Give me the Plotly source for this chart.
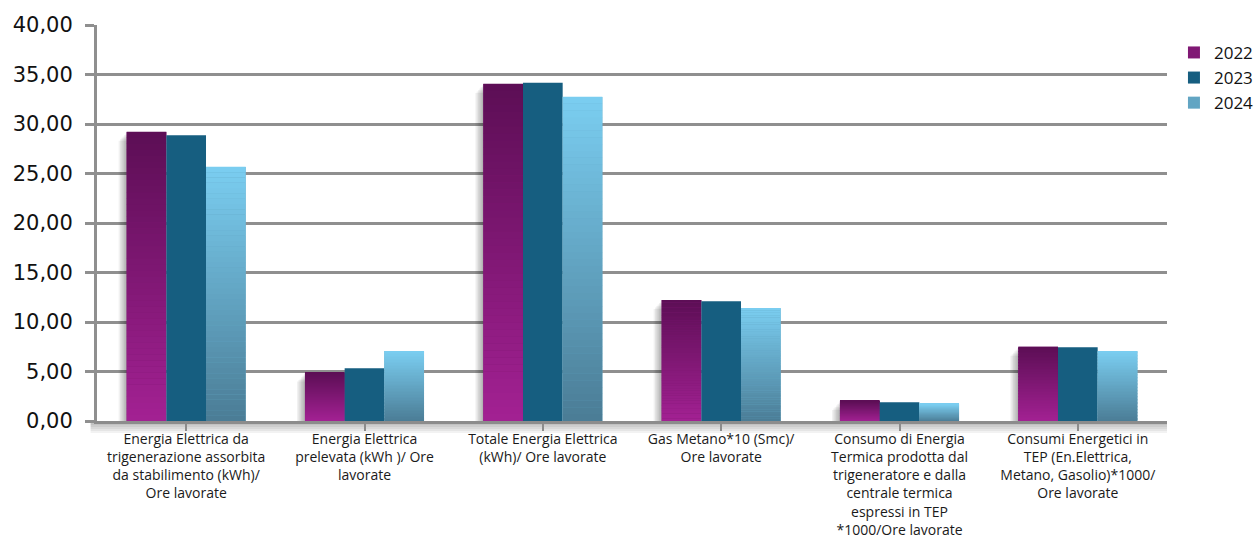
import plotly.graph_objects as go

# Indicatori energetici per ore lavorate
categories = [
    "Energia Elettrica da<br>trigenerazione assorbita<br>da stabilimento (kWh)/<br>Ore lavorate",
    "Energia Elettrica<br>prelevata (kWh )/ Ore<br>lavorate",
    "Totale Energia Elettrica<br>(kWh)/ Ore lavorate",
    "Gas Metano*10 (Smc)/<br>Ore lavorate",
    "Consumo di Energia<br>Termica prodotta dal<br>trigeneratore e dalla<br>centrale termica<br>espressi in TEP<br>*1000/Ore lavorate",
    "Consumi Energetici in<br>TEP (En.Elettrica,<br>Metano, Gasolio)*1000/<br>Ore lavorate",
]
years = ["2022", "2023", "2024"]
values_2022 = [29.20, 4.88, 34.04, 12.22, 2.02, 7.50]
values_2023 = [28.86, 5.32, 34.17, 12.10, 1.89, 7.44]
values_2024 = [25.66, 7.07, 32.73, 11.40, 1.72, 7.07]
y_ticks = [0, 5, 10, 15, 20, 25, 30, 35, 40]

series = [values_2022, values_2023, values_2024]
# bottom colour -> top colour of each series
gradients = [
    ((0xA3, 0x21, 0x93), (0x5C, 0x0E, 0x55)),
    ((0x16, 0x5E, 0x80), (0x16, 0x5E, 0x80)),
    ((0x4A, 0x7C, 0x95), (0x7B, 0xCE, 0xF1)),
]

BAR_W = 0.2225
offsets = [-1.5 * BAR_W, -0.5 * BAR_W, 0.5 * BAR_W]
N_SLICES = 48
x_idx = list(range(len(categories)))


def mix(c0, c1, t):
    return "rgb(%d,%d,%d)" % tuple(round(a + (b - a) * t) for a, b in zip(c0, c1))


fig = go.Figure()

# soft shadow to the left of each bar group
for k in range(1, 7):
    fig.add_trace(go.Bar(
        x=x_idx, y=[v - 0.15 * k for v in values_2022],
        width=BAR_W, offset=offsets[0] - 0.0075 * k,
        marker=dict(color="rgba(0,0,0,0.055)", line=dict(width=0)),
        showlegend=False, hoverinfo="skip",
    ))

for vals, name, (c_bot, c_top), off in zip(series, years, gradients, offsets):
    # full bar carrying the legend entry
    fig.add_trace(go.Bar(
        x=x_idx, y=vals, name=name, width=BAR_W, offset=off,
        marker=dict(color=mix(c_bot, c_top, 0.5), line=dict(width=0)),
    ))
    if c_bot == c_top:
        continue
    # vertical gradient: each bar split into thin stacked slices
    for k in range(N_SLICES):
        t = (k + 0.5) / N_SLICES
        fig.add_trace(go.Bar(
            x=x_idx,
            y=[v / N_SLICES * 1.02 for v in vals],
            base=[v * k / N_SLICES for v in vals],
            width=BAR_W, offset=off,
            marker=dict(color=mix(c_bot, c_top, t), line=dict(width=0)),
            showlegend=False, hoverinfo="skip",
        ))

# shadow band under the floor line
for k in range(5):
    fig.add_shape(type="rect", xref="paper", yref="paper",
                  x0=-0.006, x1=1.0, ysizemode="pixel", yanchor=0,
                  y0=-2, y1=-2 - 2 * (k + 1),
                  fillcolor="rgba(0,0,0,0.05)", line=dict(width=0), layer="below")

fig.update_layout(
    width=1260, height=538,
    margin=dict(l=97, r=93, t=25, b=117, autoexpand=False),
    paper_bgcolor="white", plot_bgcolor="white",
    barmode="overlay",
    separators=",.",
    font=dict(family="Open Sans, sans-serif", color="#1a1a1a"),
    showlegend=True,
    legend=dict(
        x=1.0065, xanchor="left", y=0.975, yanchor="top",
        font=dict(family="Open Sans, sans-serif", size=17, color="#111"),
        itemwidth=30, tracegroupgap=0, bgcolor="rgba(0,0,0,0)",
    ),
    xaxis=dict(
        range=[-0.5, len(categories) - 0.5],
        tickmode="array", tickvals=x_idx, ticktext=categories,
        tickson="boundaries", ticks="outside", ticklen=7, tickwidth=2,
        tickcolor="#8c8c8c",
        showline=True, linecolor="#8c8c8c", linewidth=3,
        showgrid=False, zeroline=False, automargin=False,
        ticklabelstandoff=-4,
        tickfont=dict(family="Open Sans, sans-serif", size=14, color="#1a1a1a"),
        tickangle=0,
    ),
    yaxis=dict(
        range=[0, 40], tickmode="array", tickvals=y_ticks,
        tickformat=".2f",
        showgrid=True, gridcolor="#8f8f8f", gridwidth=2.5,
        ticks="outside", ticklen=9, tickwidth=2.5, tickcolor="#8f8f8f",
        showline=True, linecolor="#8f8f8f", linewidth=3,
        zeroline=False, ticklabelstandoff=8, automargin=False,
        tickfont=dict(family="DejaVu Sans, sans-serif", size=21, color="#111"),
    ),
)

fig.write_html("out.html")
